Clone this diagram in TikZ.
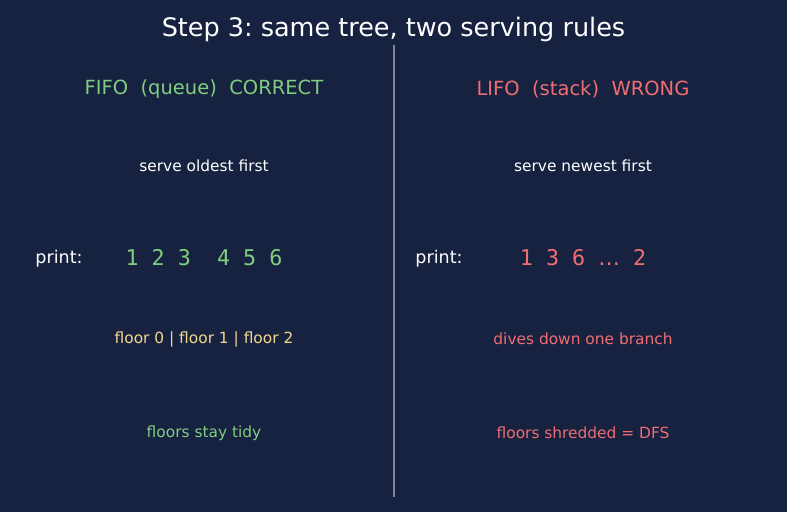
\documentclass[tikz,border=0pt]{standalone}
\usepackage{fontspec}
\setmainfont{DejaVu Sans}
\newfontfamily\numfont{DejaVu Sans Mono}
\definecolor{bg}{HTML}{172241}
\definecolor{okgreen}{HTML}{7FCE7F}
\definecolor{badred}{HTML}{EE6E72}
\definecolor{floorgold}{HTML}{F2D78C}
\definecolor{divgray}{HTML}{7D859C}
\tikzset{
  txt/.style={inner sep=0pt, anchor=center, text=white},
  head/.style={txt, font=\fontsize{19.5}{21}\selectfont},
  small/.style={txt, font=\fontsize{15.4}{17}\selectfont},
  lbl/.style={txt, font=\fontsize{17.5}{19}\selectfont},
  nums/.style={txt, font=\numfont\fontsize{21.7}{24}\selectfont},
}
\begin{document}
\frenchspacing
\begin{tikzpicture}[x=1pt,y=1pt]
\fill[bg] (0,0) rectangle (787,512);
\useasboundingbox (0,0) rectangle (787,512);
\node[txt, font=\fontsize{25.5}{28}\selectfont] (title) at (393.5,483) {Step 3: same tree, two serving rules};
\coordinate (dtop) at (394,467);
\coordinate (dbot) at (394,15);
\draw[divgray, line width=1.5pt] (dtop) -- (dbot);
% left
\node[head, text=okgreen] (lh) at (204,423) {FIFO\ \ (queue)\ \ CORRECT};
\node[small] (ls) at (204,346) {serve oldest first};
\node[lbl] (lp) at (59,253) {print:};
\node[nums, text=okgreen] (ln) at (204,254) {1 2 3\ \ 4 5 6};
\node[small, text=floorgold] (lf) at (204,173) {floor 0 | floor 1 | floor 2};
\node[small, text=okgreen] (lt) at (204,79) {floors stay tidy};
% right
\node[head, text=badred] (rh) at (583,423) {LIFO\ \ (stack)\ \ WRONG};
\node[small] (rs) at (583,346) {serve newest first};
\node[lbl] (rp) at (439,253) {print:};
\node[nums, text=badred] (rn) at (583,254) {1 3 6 {\rmfamily…} 2};
\node[small, text=badred] (rf) at (583,173) {dives down one branch};
\node[small, text=badred] (rt) at (583,79) {floors shredded = DFS};
\end{tikzpicture}
\end{document}
